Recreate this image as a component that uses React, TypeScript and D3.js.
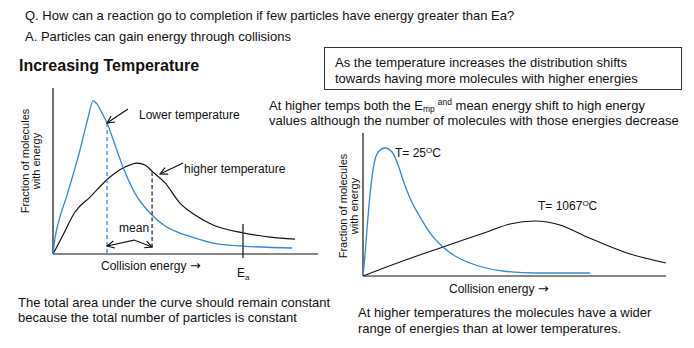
import React from "react";
import * as d3 from "d3";

// ---------- data (energy 0..100, fraction 0..100) ----------
const leftLowX = [0, 0.75, 1.9, 5.3, 10.2, 13.2, 15.1, 16.6, 18.5, 20.4, 23.4, 26.4, 30.9, 36.6, 42.3, 46.8, 53.6, 60.4, 71.7, 90.2];
const leftLowY = [0, 9.6, 18.1, 35.5, 62.7, 81.9, 92.2, 90.4, 84.9, 78.9, 65.7, 52.4, 36.7, 24.7, 16.9, 13.3, 9.6, 6.6, 4.8, 3.6];
const leftHighX = [0, 3.4, 8.3, 14.0, 21.5, 27.2, 31.7, 34.7, 37.7, 42.3, 47.9, 53.6, 60.4, 71.7, 81.9, 91.3];
const leftHighY = [0, 10.2, 25.3, 34.3, 46.4, 52.4, 54.8, 53.6, 49.4, 42.8, 30.7, 23.5, 17.5, 12.7, 10.2, 9.0];

const rightLowX = [0, 0.66, 1.3, 2.3, 3.3, 5.0, 7.3, 9.6, 11.6, 13.2, 15.5, 18.8, 22.1, 26.4, 30.4, 35.3, 46.2, 57.4, 74.9];
const rightLowY = [0, 14.7, 32.2, 56.6, 74.1, 86.7, 89.5, 86.7, 77.6, 67.1, 54.5, 41.3, 30.1, 20.3, 14.0, 9.1, 3.5, 2.1, 2.1];
const rightHighX = [0, 12.2, 26.4, 40.9, 48.5, 56.8, 65.0, 73.9, 87.1, 100];
const rightHighY = [0, 9.8, 20.3, 30.8, 36.4, 38.5, 35.7, 27.3, 16.1, 9.1];

// markers (most probable energies / mean arrow / Ea)
const empLow = [20.4, 78.9];
const empHigh = [37.4, 49.4, 4.2];
const meanArrowX = [20.4, 30.6, 37.4];
const meanArrowY = [4.8, 8.4, 4.2];
const eaX = 71.7;
const eaRange = [18.1, -2.4];
const lowerArrow = [[28.3, 87.3], [20.4, 78.9]];
const higherArrow = [[49.1, 54.8], [40.4, 48.2]];

const BLUE = "#3388d6";
const FONT = "'Liberation Sans', Arial, Helvetica, sans-serif";

const zip = (xs: number[], ys: number[]) => xs.map((x, i) => [x, ys[i]] as [number, number]);

export default function App() {
  const lx = d3.scaleLinear().domain([0, 100]).range([53, 318]);
  const ly = d3.scaleLinear().domain([0, 100]).range([254, 88]);
  const rx = d3.scaleLinear().domain([0, 100]).range([363, 666]);
  const ry = d3.scaleLinear().domain([0, 100]).range([276, 133]);

  const lLine = d3.line<[number, number]>().x((d) => lx(d[0])).y((d) => ly(d[1])).curve(d3.curveMonotoneX);
  const rLine = d3.line<[number, number]>().x((d) => rx(d[0])).y((d) => ry(d[1])).curve(d3.curveMonotoneX);
  const poly = d3.line<[number, number]>().x((d) => lx(d[0])).y((d) => ly(d[1]));

  const txt = { fontFamily: FONT, fill: "#111" } as const;
  const arrowGlyph = <tspan style={{ fontFamily: "'DejaVu Sans', sans-serif" }} fontSize={13}>→</tspan>;

  return (
    <svg width={694} height={348} style={{ position: "absolute", left: 0, top: 0, background: "#fff" }}>
      <defs>
        <marker id="arr" viewBox="0 0 10 10" refX="9" refY="5" markerWidth="9" markerHeight="9"
          markerUnits="userSpaceOnUse" orient="auto-start-reverse">
          <path d="M1,1 L9,5 L1,9" fill="none" stroke="#111" strokeWidth="1.3" />
        </marker>
      </defs>
      <rect width={694} height={348} fill="#fff" />

      {/* header text */}
      <text x={25} y={20} fontSize={13} style={txt}>Q. How can a reaction go to completion if few particles have energy greater than Ea?</text>
      <text x={25} y={41} fontSize={13} style={txt}>A. Particles can gain energy through collisions</text>
      <text x={19} y={71} fontSize={16} fontWeight="bold" style={txt}>Increasing Temperature</text>

      <rect x={324.5} y={47.5} width={357} height={42} fill="none" stroke="#333" strokeWidth={1} />
      <text x={335} y={67} fontSize={13} style={txt}>As the temperature increases the distribution shifts</text>
      <text x={335} y={83} fontSize={13} style={txt}>towards having more molecules with higher energies</text>

      <text x={269} y={110} fontSize={13} style={txt}>
        At higher temps both the E<tspan fontSize={8.5} dy={2}>mp</tspan>
        <tspan fontSize={8.5} dx={3} dy={-7}>and</tspan>
        <tspan dy={5}> mean energy shift to high energy</tspan>
      </text>
      <text x={269} y={125} fontSize={13} style={txt}>values although the number of molecules with those energies decrease</text>

      {/* LEFT CHART */}
      <line x1={lx(0)} x2={lx(0)} y1={ly(0)} y2={ly(100)} stroke="#111" strokeWidth={1.2} />
      <line x1={lx(0)} x2={lx(100)} y1={ly(0)} y2={ly(0)} stroke="#111" strokeWidth={1.2} />
      <path d={lLine(zip(leftHighX, leftHighY)) || ""} fill="none" stroke="#111" strokeWidth={1.2} />
      <path d={lLine(zip(leftLowX, leftLowY)) || ""} fill="none" stroke={BLUE} strokeWidth={1.3} />
      <line x1={lx(empLow[0])} x2={lx(empLow[0])} y1={ly(empLow[1])} y2={ly(0)} stroke={BLUE} strokeWidth={1.3} strokeDasharray="4,3" />
      <line x1={lx(empHigh[0])} x2={lx(empHigh[0])} y1={ly(empHigh[1])} y2={ly(empHigh[2])} stroke="#555" strokeWidth={1.6} strokeDasharray="4,2.5" />
      <path d={poly(zip(meanArrowX, meanArrowY)) || ""} fill="none" stroke="#111" strokeWidth={1.2}
        markerStart="url(#arr)" markerEnd="url(#arr)" />
      <text x={lx(30.6)} y={232} fontSize={12} textAnchor="middle" style={txt}>mean</text>
      <line x1={lx(eaX)} x2={lx(eaX)} y1={ly(eaRange[0])} y2={ly(eaRange[1])} stroke="#333" strokeWidth={1.4} />
      <text x={237} y={277} fontSize={12} style={txt}>E<tspan fontSize={8} dy={3}>a</tspan></text>
      <text x={101} y={270} fontSize={12} style={txt}>Collision energy {arrowGlyph}</text>
      <path d={poly(lowerArrow as [number, number][]) || ""} fill="none" stroke="#111" strokeWidth={1.2} markerEnd="url(#arr)" />
      <path d={poly(higherArrow as [number, number][]) || ""} fill="none" stroke="#111" strokeWidth={1.2} markerEnd="url(#arr)" />
      <text x={139} y={119} fontSize={12} style={txt}>Lower temperature</text>
      <text x={184} y={173} fontSize={12} style={txt}>higher temperature</text>
      <text transform="translate(29,161) rotate(-90)" fontSize={11} textAnchor="middle" style={txt}>Fraction of molecules</text>
      <text transform="translate(40,161) rotate(-90)" fontSize={11} textAnchor="middle" style={txt}>with energy</text>

      <text x={18} y={307} fontSize={13} style={txt}>The total area under the curve should remain constant</text>
      <text x={18} y={322} fontSize={13} style={txt}>because the total number of particles is constant</text>

      {/* RIGHT CHART */}
      <line x1={rx(0)} x2={rx(0)} y1={ry(0)} y2={ry(100)} stroke="#111" strokeWidth={1.2} />
      <line x1={rx(0)} x2={rx(100)} y1={ry(0)} y2={ry(0)} stroke="#111" strokeWidth={1.2} />
      <path d={rLine(zip(rightHighX, rightHighY)) || ""} fill="none" stroke="#111" strokeWidth={1.1} />
      <path d={rLine(zip(rightLowX, rightLowY)) || ""} fill="none" stroke={BLUE} strokeWidth={1.3} />
      <text x={395} y={157} fontSize={12} style={txt}>T= 25<tspan fontSize={8} dy={-4}>O</tspan><tspan dy={4}>C</tspan></text>
      <text x={538} y={210} fontSize={12} style={txt}>T= 1067<tspan fontSize={8} dy={-4}>O</tspan><tspan dy={4}>C</tspan></text>
      <text x={449} y={293} fontSize={12} style={txt}>Collision energy {arrowGlyph}</text>
      <text transform="translate(347,206) rotate(-90)" fontSize={11} textAnchor="middle" style={txt}>Fraction of molecules</text>
      <text transform="translate(358,206) rotate(-90)" fontSize={11} textAnchor="middle" style={txt}>with energy</text>

      <text x={358} y={317} fontSize={13} style={txt}>At higher temperatures the molecules have a wider</text>
      <text x={358} y={333} fontSize={13} style={txt}>range of energies than at lower temperatures.</text>
    </svg>
  );
}
